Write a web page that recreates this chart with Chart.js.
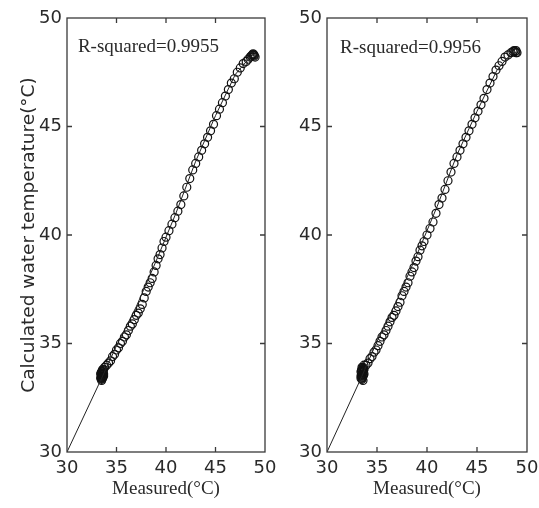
<!DOCTYPE html>
<html lang="en">
  <head>
    <meta charset="UTF-8" />
    <title>Measured vs calculated water temperature</title>
    <script src="https://cdn.jsdelivr.net/npm/chart.js"></script>
    <style>
      body { margin: 0; background: #fff; overflow: hidden; }
      #leftChart { position: absolute; left: 0; top: 0; }
      #rightChart { position: absolute; left: 270px; top: 0; }
    </style>
  </head>
  <body>
    <canvas id="leftChart" width="290" height="508"></canvas>
    <canvas id="rightChart" width="290" height="508"></canvas>

    <script>
      // values
      const tickValues = [35, 40, 45];

      // left panel: circles
      const measuredA = [
        33.4, 33.5, 33.5, 33.6, 33.6, 33.7, 33.5, 33.7, 33.8,
        33.4, 33.5, 33.6, 33.5, 33.7, 33.6, 33.45, 33.55, 33.65,
        33.45, 33.55, 33.65, 33.5, 33.6,
        34.0, 34.2, 34.4, 34.6, 34.8, 35.0, 35.2, 35.4, 35.6, 35.8,
        36.0, 36.2, 36.4, 36.6, 36.8, 37.0, 37.2, 37.4, 37.6, 37.8,
        38.0, 38.2, 38.4, 38.6, 38.8, 39.0, 39.2, 39.4, 39.6, 39.8,
        40.0, 40.3, 40.6, 40.9, 41.2, 41.5, 41.8, 42.1, 42.4, 42.7,
        43.0, 43.3, 43.6, 43.9, 44.2, 44.5, 44.8, 45.1, 45.4, 45.7,
        46.0, 46.3, 46.6, 46.9, 47.2, 47.5, 47.8, 48.1, 48.3, 48.5,
        48.7, 48.8, 48.9, 48.6, 48.8, 48.9, 49.0
      ];
      const calculatedA = [
        33.4, 33.5, 33.6, 33.5, 33.7, 33.8, 33.3, 33.6, 33.9,
        33.6, 33.4, 33.4, 33.7, 33.5, 33.8, 33.45, 33.55, 33.65,
        33.65, 33.45, 33.55, 33.35, 33.75,
        34.0, 34.1, 34.2, 34.4, 34.5, 34.7, 34.8, 35.0, 35.1, 35.3,
        35.4, 35.6, 35.8, 35.9, 36.1, 36.3, 36.4, 36.6, 36.8, 37.1,
        37.4, 37.6, 37.8, 38.0, 38.3, 38.6, 38.9, 39.1, 39.4, 39.7,
        39.9, 40.2, 40.5, 40.8, 41.1, 41.4, 41.8, 42.2, 42.6, 43.0,
        43.3, 43.6, 43.9, 44.2, 44.5, 44.8, 45.1, 45.5, 45.8, 46.1,
        46.4, 46.7, 47.0, 47.2, 47.5, 47.7, 47.9, 48.0, 48.1, 48.2,
        48.3, 48.3, 48.25, 48.25, 48.35, 48.3, 48.2
      ];
      // left panel: thin line
      const lineXA = [30, 33.5, 35.0, 37.0, 39.0, 41.0, 43.0, 45.0, 47.0, 48.5, 48.9];
      const lineYA = [30, 33.4, 34.9, 36.7, 38.8, 41.0, 43.4, 45.5, 47.4, 48.2, 48.3];
      const r2A = "0.9955";

      // right panel: circles
      const measuredB = [
        33.4, 33.5, 33.5, 33.6, 33.6, 33.7, 33.4, 33.7,
        33.5, 33.6, 33.4, 33.7, 33.5, 33.6, 33.45, 33.55, 33.65,
        33.45, 33.55, 33.65, 33.5, 33.6,
        33.9, 34.1, 34.3, 34.5, 34.7, 34.9, 35.1, 35.3, 35.5, 35.7,
        35.9, 36.1, 36.3, 36.5, 36.7, 36.9, 37.1, 37.3, 37.5, 37.7,
        37.9, 38.1, 38.3, 38.5, 38.7, 38.9, 39.1, 39.3, 39.5, 39.7,
        40.0, 40.3, 40.6, 40.9, 41.2, 41.5, 41.8, 42.1, 42.4, 42.7,
        43.0, 43.3, 43.6, 43.9, 44.2, 44.5, 44.8, 45.1, 45.4, 45.7,
        46.0, 46.3, 46.6, 46.9, 47.2, 47.5, 47.8, 48.1, 48.4, 48.6,
        48.8, 48.9, 48.7, 48.9, 49.0
      ];
      const calculatedB = [
        33.5, 33.6, 33.8, 33.7, 33.9, 34.0, 33.4, 33.8,
        33.4, 33.5, 33.7, 33.6, 33.9, 33.3, 33.55, 33.65, 33.75,
        33.75, 33.45, 33.55, 33.35, 33.85,
        34.0, 34.1, 34.3, 34.4, 34.6, 34.7, 34.9, 35.1, 35.3, 35.4,
        35.6, 35.8, 36.0, 36.2, 36.3, 36.5, 36.7, 36.9, 37.2, 37.4,
        37.6, 37.8, 38.1, 38.3, 38.5, 38.8, 39.0, 39.3, 39.5, 39.7,
        40.0, 40.3, 40.6, 41.0, 41.4, 41.7, 42.1, 42.5, 42.9, 43.3,
        43.6, 43.9, 44.2, 44.5, 44.8, 45.1, 45.4, 45.7, 46.0, 46.3,
        46.7, 47.0, 47.3, 47.6, 47.8, 48.0, 48.2, 48.3, 48.4, 48.45,
        48.45, 48.4, 48.5, 48.5, 48.4
      ];
      // right panel: thin line
      const lineXB = [30, 33.5, 35.0, 37.0, 39.0, 41.0, 43.0, 45.0, 47.0, 48.5, 48.9];
      const lineYB = [30, 33.5, 35.1, 37.0, 39.1, 41.3, 43.7, 45.7, 47.6, 48.4, 48.4];
      const r2B = "0.9956";

      const textColor = "#2a2a2a";

      // frame with inward ticks and the R-squared note
      const framePlugin = {
        id: "frame",
        afterDatasetsDraw(chart, args, opts) {
          const { ctx, chartArea: a, scales } = chart;
          ctx.save();
          ctx.strokeStyle = "#3a3a3a";
          ctx.lineWidth = 1.3;
          ctx.strokeRect(a.left, a.top, a.right - a.left, a.bottom - a.top);
          ctx.beginPath();
          tickValues.forEach((v) => {
            const px = scales.x.getPixelForValue(v);
            const py = scales.y.getPixelForValue(v);
            ctx.moveTo(px, a.bottom);
            ctx.lineTo(px, a.bottom - 5);
            ctx.moveTo(px, a.top);
            ctx.lineTo(px, a.top + 5);
            ctx.moveTo(a.left, py);
            ctx.lineTo(a.left + 5, py);
            ctx.moveTo(a.right, py);
            ctx.lineTo(a.right - 5, py);
          });
          ctx.stroke();
          ctx.font = '19px "Liberation Serif"';
          ctx.fillStyle = textColor;
          ctx.textBaseline = "alphabetic";
          ctx.fillText(
            "R-squared=" + opts.r2,
            scales.x.getPixelForValue(opts.at[0]),
            scales.y.getPixelForValue(opts.at[1])
          );
          ctx.restore();
        },
      };

      function makeChart(id, xs, ys, lx, ly, r2, textAt, yWidth, rightPad, showYTitle) {
        const points = xs.map((x, i) => ({ x: x, y: ys[i] }));
        const line = lx.map((x, i) => ({ x: x, y: ly[i] }));
        return new Chart(document.getElementById(id), {
          type: "scatter",
          data: {
            datasets: [
              {
                data: line,
                showLine: true,
                borderColor: "#222",
                borderWidth: 1,
                pointRadius: 0,
              },
              {
                data: points,
                pointRadius: 4,
                pointBorderWidth: 1.2,
                pointBorderColor: "#111",
                pointBackgroundColor: "rgba(0,0,0,0)",
              },
            ],
          },
          options: {
            responsive: false,
            animation: false,
            devicePixelRatio: 1,
            layout: { padding: { left: 0, top: 18, right: rightPad, bottom: 0 } },
            plugins: {
              legend: { display: false },
              tooltip: { enabled: false },
              frame: { r2: r2, at: textAt },
            },
            scales: {
              x: {
                type: "linear",
                min: 30,
                max: 50,
                grid: { display: false, drawTicks: false },
                border: { display: false },
                ticks: {
                  stepSize: 5,
                  padding: 6,
                  maxRotation: 0,
                  color: textColor,
                  font: { family: "DejaVu Sans", size: 18 },
                },
                title: {
                  display: true,
                  text: "Measured(°C)",
                  color: textColor,
                  font: { family: "Liberation Serif", size: 19 },
                  padding: { top: 0, bottom: 8 },
                },
                afterFit: (s) => { s.height = 56; },
              },
              y: {
                type: "linear",
                min: 30,
                max: 50,
                grid: { display: false, drawTicks: false },
                border: { display: false },
                ticks: {
                  stepSize: 5,
                  padding: 5,
                  color: textColor,
                  font: { family: "DejaVu Sans", size: 18 },
                },
                title: {
                  display: showYTitle,
                  text: "Calculated water temperature(°C)",
                  color: textColor,
                  font: { family: "DejaVu Sans", size: 18.5 },
                  padding: { top: 18, bottom: 0 },
                },
                afterFit: (s) => { s.width = yWidth; },
              },
            },
          },
          plugins: [framePlugin],
        });
      }

      makeChart("leftChart", measuredA, calculatedA, lineXA, lineYA, r2A, [31.1, 48.43], 67, 25, true);
      makeChart("rightChart", measuredB, calculatedB, lineXB, lineYB, r2B, [31.3, 48.4], 57, 33, false);
    </script>
  </body>
</html>
